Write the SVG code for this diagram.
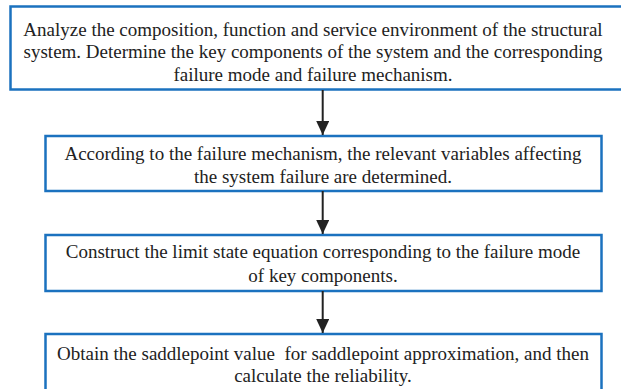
<svg xmlns="http://www.w3.org/2000/svg" width="621" height="389" viewBox="0 0 621 389">
<defs>
<style>
.box{fill:#ffffff;stroke:#1b72bf;stroke-width:2.5}
.t{font-family:"Liberation Serif","Times New Roman",serif;font-size:19px;fill:#222222;text-anchor:middle}
.c{stroke:#222222;stroke-width:2;fill:none}
</style>
<marker id="ah" markerWidth="14" markerHeight="13" refX="14" refY="6.5" orient="auto" markerUnits="userSpaceOnUse" viewBox="0 0 14 13">
<path d="M0,0 L14,6.5 L0,13 Z" fill="#222222"/>
</marker>
</defs>
<rect width="621" height="389" fill="#ffffff"/>
<g id="n1">
<rect class="box" x="10.5" y="6.5" width="620" height="83"/>
<text class="t" x="313" y="36">Analyze the composition, function and service environment of the structural</text>
<text class="t" x="313" y="58">system. Determine the key components of the system and the corresponding</text>
<text class="t" x="313" y="80.5">failure mode and failure mechanism.</text>
</g>
<g id="n2">
<rect class="box" x="45.5" y="136" width="556" height="55"/>
<text class="t" x="323" y="160">According to the failure mechanism, the relevant variables affecting</text>
<text class="t" x="323" y="182.5">the system failure are determined.</text>
</g>
<g id="n3">
<rect class="box" x="45.5" y="235" width="556" height="56"/>
<text class="t" x="323" y="258">Construct the limit state equation corresponding to the failure mode</text>
<text class="t" x="323" y="281.5">of key components.</text>
</g>
<g id="n4">
<rect class="box" x="45.5" y="334" width="556" height="60"/>
<text class="t" x="323" y="360" xml:space="preserve">Obtain the saddlepoint value  for saddlepoint approximation, and then</text>
<text class="t" x="323" y="382">calculate the reliability.</text>
</g>
<g id="connectors">
<line class="c" x1="322.7" y1="90" x2="322.7" y2="135" marker-end="url(#ah)"/>
<line class="c" x1="322.7" y1="191" x2="322.7" y2="234" marker-end="url(#ah)"/>
<line class="c" x1="322.7" y1="291" x2="322.7" y2="333" marker-end="url(#ah)"/>
</g>
</svg>
